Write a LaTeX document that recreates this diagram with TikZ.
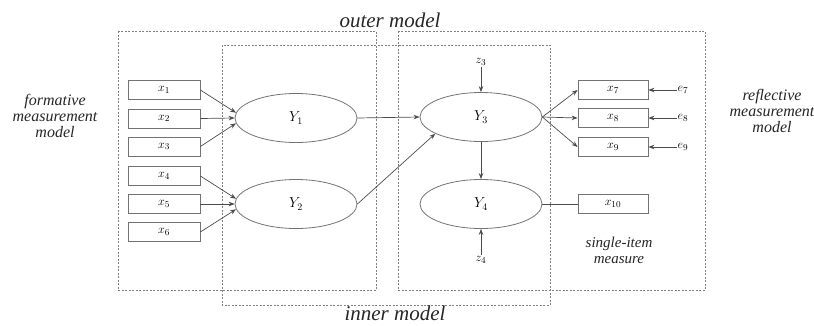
\documentclass[tikz,border=0pt]{standalone}
\usepackage{fontspec}
\setmainfont{Liberation Serif}
\usetikzlibrary{shapes.geometric,arrows.meta}
\begin{document}
\begin{tikzpicture}[x=1pt,y=-1pt,
  lbox/.style={draw=black!55,line width=0.8pt,minimum width=72pt,minimum height=19pt,inner sep=0pt,font=\fontsize{13}{13}\selectfont},
  rbox/.style={lbox,minimum width=70pt},
  lv/.style={ellipse,draw=black!55,line width=0.8pt,minimum width=122pt,minimum height=49pt,inner sep=0pt,font=\fontsize{14}{14}\selectfont},
  frame/.style={draw=black!50,line width=0.7pt,dash pattern=on 2pt off 1.5pt},
  arr/.style={-{Stealth[length=6pt,width=4.5pt]},draw=black!70,line width=0.7pt},
  ln/.style={draw=black!70,line width=0.7pt},
  err/.style={inner sep=1pt,font=\fontsize{13}{13}\selectfont},
  big/.style={font=\fontsize{21}{21}\selectfont\itshape,text=black!85},
  side/.style={font=\fontsize{16}{16}\selectfont\itshape,align=center,text=black!85}
]
\useasboundingbox (0,0) rectangle (814,325);

% frames
\draw[frame] (118,31) rectangle (376,290);
\draw[frame] (398,31) rectangle (705,290);
\draw[frame] (222,45) rectangle (550,305);

% titles
\node[big,anchor=base] (outer) at (390,27) {outer model};
\node[big,anchor=base] (inner) at (395,320) {inner model};

% side labels
\node[side] (form) at (55,116) {formative\\measurement\\model};
\node[side] (refl) at (772,111) {reflective\\measurement\\model};
\node[side,font=\fontsize{15}{16}\selectfont\itshape] (single) at (619,250) {single-item\\measure};

% indicators left
\node[lbox] (x1) at (164,90) {$x_1$};
\node[lbox] (x2) at (164,118.5) {$x_2$};
\node[lbox] (x3) at (164,146.5) {$x_3$};
\node[lbox] (x4) at (164,176) {$x_4$};
\node[lbox] (x5) at (164,204) {$x_5$};
\node[lbox] (x6) at (164,232) {$x_6$};

% latent variables
\node[lv] (Y1) at (296,118) {$Y_1$};
\node[lv] (Y2) at (296,204) {$Y_2$};
\node[lv] (Y3) at (481,117) {$Y_3$};
\node[lv] (Y4) at (481,204) {$Y_4$};

% indicators right
\node[rbox] (x7) at (613,90) {$x_7$};
\node[rbox] (x8) at (613,118) {$x_8$};
\node[rbox] (x9) at (613,147) {$x_9$};
\node[rbox] (x10) at (613,204) {$x_{10}$};

% error terms
\node[err] (z3) at (481,62) {$z_3$};
\node[err] (z4) at (481,260) {$z_4$};
\node[err] (e7) at (683,90) {$e_7$};
\node[err] (e8) at (683,118) {$e_8$};
\node[err] (e9) at (683,147) {$e_9$};

% formative arrows
\draw[arr] (x1.east) -- (Y1.175);
\draw[arr] (x2.east) -- (Y1.180);
\draw[arr] (x3.east) -- (Y1.185);
\draw[arr] (x4.east) -- (Y2.175);
\draw[arr] (x5.east) -- (Y2.180);
\draw[arr] (x6.east) -- (Y2.185);

% structural paths
\draw[arr] (Y1.east) -- (Y3.west);
\draw[arr] (Y2.east) -- (Y3.200);
\draw[arr] (Y3.south) -- (Y4.north);
\draw[arr] (z3) -- (Y3.north);
\draw[arr] (z4) -- (Y4.south);

% reflective arrows
\draw[arr] (Y3.east) -- (x7.west);
\draw[arr] (Y3.east) -- (x8.west);
\draw[arr] (Y3.east) -- (x9.west);
\draw[ln] (Y4.east) -- (x10.west);

\draw[arr] (e7) -- (x7.east);
\draw[arr] (e8) -- (x8.east);
\draw[arr] (e9) -- (x9.east);
\end{tikzpicture}
\end{document}
